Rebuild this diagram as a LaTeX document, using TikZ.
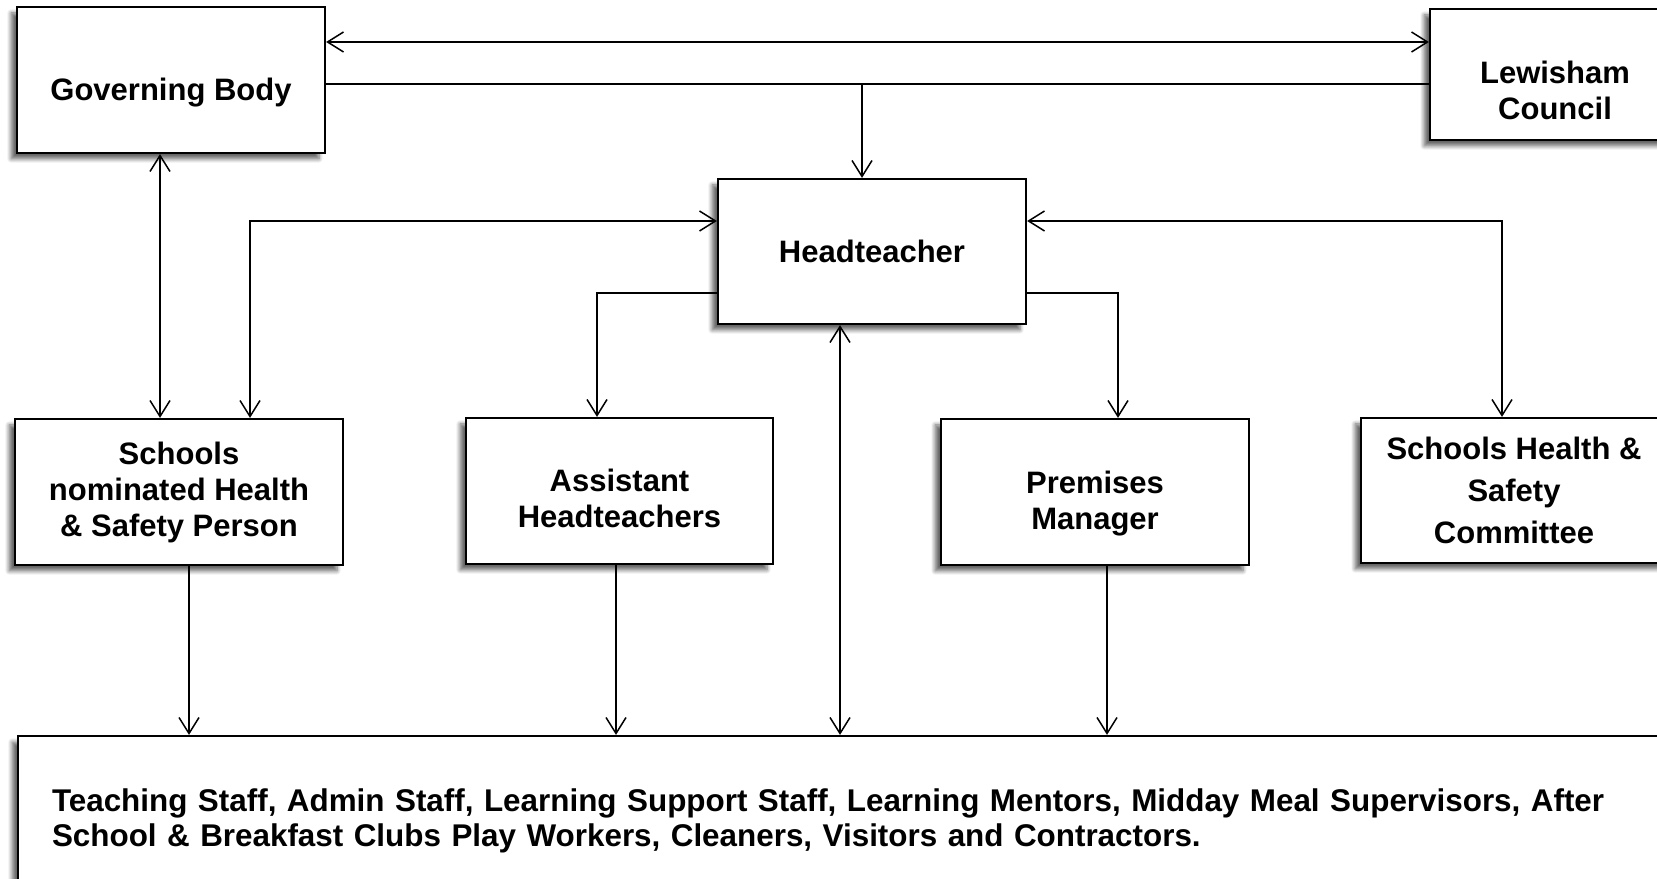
\documentclass[tikz,border=0pt]{standalone}
\usepackage{fontspec}
\setmainfont{Liberation Sans}
\usepackage{tikz}
\usetikzlibrary{shadows,shadows.blur}
\usetikzlibrary{arrows.meta}
\usetikzlibrary{positioning}
\newcommand{\boxstrut}[1]{\rule{0pt}{#1}}
\tikzstyle{block} = [rectangle, draw, line width=1.1pt, fill=white, align=center,
    font=\bfseries\fontsize{15.5}{18}\selectfont, inner sep=0pt,
    blur shadow={shadow xshift=-3pt, shadow yshift=-3pt, shadow blur radius=2pt, shadow blur steps=6, shadow opacity=60}]
\tikzstyle{line} = [draw, line width=0.75pt, {Straight Barb[length=8pt,width=10pt]}-{Straight Barb[length=8pt,width=10pt]}]

\begin{document}
\begin{tikzpicture}[x=0.5pt,y=0.5pt]
    \useasboundingbox (0,0) rectangle (1657,878);
    \clip (0,0) rectangle (1657,878);
    % Place nodes
    \node [block, minimum width=154pt, minimum height=73pt] (gov) at (171,798) {\boxstrut{23.5pt}Governing Body};
    \node [block, minimum width=125pt, minimum height=65.5pt] (lew) at (1555,803.5) {\boxstrut{27.5pt}Lewisham\\Council};
    \node [block, minimum width=154pt, minimum height=72.5pt] (head) at (872,626.5) {Headteacher};
    \node [block, minimum width=164pt, minimum height=73pt] (hsp) at (179,386) {Schools\\nominated Health\\\& Safety Person};
    \node [block, minimum width=153.5pt, minimum height=73pt] (ast) at (619.5,387) {\boxstrut{18.7pt}Assistant\\Headteachers};
    \node [block, minimum width=154pt, minimum height=73pt] (prem) at (1095,386) {\boxstrut{23pt}Premises\\Manager};
    \node [block, minimum width=153pt, minimum height=72.5pt] (com) at (1514,387.5) {Schools Health \&\\[3pt]Safety\\[3pt]Committee};
    \node [block, align=left, text width=797pt, inner xsep=17pt, minimum height=85pt,
        font=\bfseries\fontsize{15.7}{17.5}\selectfont] (staff) at (849,57)
        {Teaching Staff, Admin Staff, Learning Support Staff, Learning Mentors, Midday Meal Supervisors, After\\
         School \& Breakfast Clubs Play Workers, Cleaners, Visitors and Contractors.};
    % Draw edges
    \path [line] ([yshift=19pt]gov.east) -- ([yshift=19pt]gov.east -| lew.west);
    \coordinate (gl) at ([yshift=-2pt]gov.east);
    \draw [line width=0.75pt] (gl) -- (gl -| lew.west);
    \path [line, -{Straight Barb[length=8pt,width=10pt]}] ([xshift=-5pt]head.north |- gl) -- ([xshift=-5pt]head.north);
    \path [line] ([xshift=-5.5pt]gov.south) -- ([xshift=-5.5pt]gov.south |- hsp.north);
    \path [line] ([yshift=15.25pt]head.west) -| ([xshift=35.5pt]hsp.north);
    \path [line] ([yshift=15.25pt]head.east) -| ([xshift=-6pt]com.north);
    \path [line, -{Straight Barb[length=8pt,width=10pt]}] ([yshift=-20.75pt]head.west) -| ([xshift=-11.25pt]ast.north);
    \path [line, -{Straight Barb[length=8pt,width=10pt]}] ([yshift=-20.75pt]head.east) -| ([xshift=11.5pt]prem.north);
    \path [line] ([xshift=-16pt]head.south) -- ([xshift=-16pt]head.south |- staff.north);
    \path [line, -{Straight Barb[length=8pt,width=10pt]}] ([xshift=5pt]hsp.south) -- ([xshift=5pt]hsp.south |- staff.north);
    \path [line, -{Straight Barb[length=8pt,width=10pt]}] ([xshift=-1.75pt]ast.south) -- ([xshift=-1.75pt]ast.south |- staff.north);
    \path [line, -{Straight Barb[length=8pt,width=10pt]}] ([xshift=6pt]prem.south) -- ([xshift=6pt]prem.south |- staff.north);
\end{tikzpicture}
\end{document}
